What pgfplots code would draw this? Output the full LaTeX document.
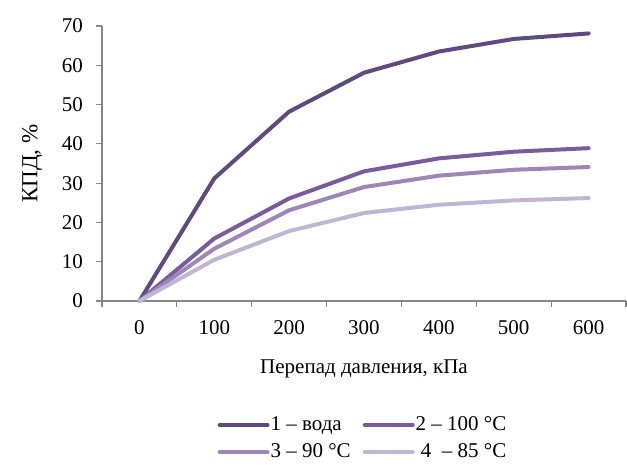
\documentclass[border=0pt]{standalone}
\usepackage{pgfplots}
\pgfplotsset{compat=1.18}
\usepackage{fontspec}
\setmainfont{Liberation Serif}

\definecolor{axisgray}{HTML}{868686}
\definecolor{cA}{HTML}{5F4A80}
\definecolor{cB}{HTML}{7A5C9C}
\definecolor{cC}{HTML}{9C87B7}
\definecolor{cD}{HTML}{C0B6D4}

\begin{document}
\begin{tikzpicture}
\begin{axis}[
  scale only axis,
  width=262pt, height=137.5pt,
  xmin=-0.5, xmax=6.5,
  ymin=0, ymax=70,
  axis x line*=bottom,
  axis y line*=left,
  axis line style={axisgray, line width=0.6pt},
  xtick={0,1,2,3,4,5,6},
  xticklabels={0,100,200,300,400,500,600},
  major x tick style={draw=none},
  minor xtick={-0.5,0.5,1.5,2.5,3.5,4.5,5.5,6.5},
  minor tick length=3pt,
  minor x tick style={axisgray, line width=0.6pt},
  ytick={0,10,...,70},
  major tick length=3pt,
  y tick style={axisgray, line width=0.6pt},
  tick align=outside,
  tick label style={font=\fontsize{10.5}{12}\selectfont},
  /pgf/number format/assume math mode=true,
  xticklabel style={yshift=-3pt},
  yticklabel style={xshift=-3pt},
  xlabel={Перепад давления, кПа},
  ylabel={КПД, \%},
  xlabel style={font=\fontsize{10.5}{12}\selectfont, yshift=-6pt},
  ylabel style={font=\fontsize{11.5}{13}\selectfont, yshift=3pt},
  every axis plot/.append style={line width=2pt, line cap=round, line join=round, no markers},
  legend columns=2,
  legend cell align=left,
  legend style={
    draw=none, fill=none,
    at={(0.5,-0.39)}, anchor=north,
    font=\fontsize{10.5}{12}\selectfont,
    /tikz/every odd column/.append style={column sep=-1.5pt},
    /tikz/every even column/.append style={column sep=4pt},
    row sep=1pt,
  },
  legend image code/.code={
    \draw[#1, line width=2pt, line cap=round] (0pt,0pt) -- (24pt,0pt);
  },
  clip=false,
]
\addplot[cA] coordinates {(0,0) (1,31.2) (2,48.2) (3,58.1) (4,63.5) (5,66.7) (6,68.1)};
\addlegendentry{1 – вода}
\addplot[cB] coordinates {(0,0) (1,15.9) (2,26.1) (3,33.0) (4,36.3) (5,38.0) (6,38.9)};
\addlegendentry{2 – 100 °C}
\addplot[cC] coordinates {(0,0) (1,13.3) (2,23.1) (3,29.0) (4,31.9) (5,33.4) (6,34.1)};
\addlegendentry{3 – 90 °C}
\addplot[cD] coordinates {(0,0) (1,10.5) (2,17.8) (3,22.4) (4,24.5) (5,25.6) (6,26.2)};
\addlegendentry{\ 4\ \ – 85 °C}
\end{axis}
\useasboundingbox ([xshift=-51pt,yshift=-78pt]current axis.south west) rectangle ([xshift=0.5pt,yshift=13pt]current axis.north east);
\end{tikzpicture}
\end{document}
